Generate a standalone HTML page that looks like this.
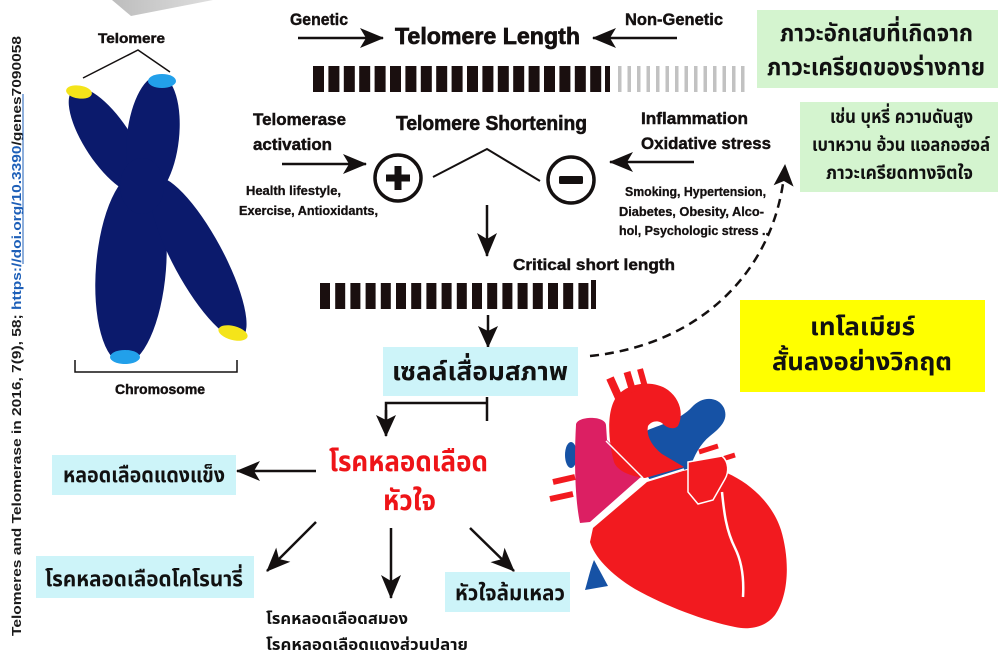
<!DOCTYPE html>
<html>
<head>
<meta charset="utf-8">
<style>
html,body{margin:0;padding:0;background:#fff;}
svg{display:block;}
.en{font-family:"Liberation Sans",Arial,sans-serif;font-weight:bold;fill:#141010;stroke:#141010;stroke-width:0.45;}
.th{font-family:"Liberation Sans","Noto Sans Thai","Noto Sans Thai UI","Loma","Garuda","Tlwg Typo",sans-serif;font-weight:bold;fill:#111;}
.vt{font-family:"Liberation Sans",Arial,sans-serif;font-weight:bold;fill:#1a1a1a;}
</style>
</head>
<body>
<svg width="1000" height="654" viewBox="0 0 1000 654" xmlns="http://www.w3.org/2000/svg">
<defs>
  <marker id="ah" markerUnits="userSpaceOnUse" markerWidth="24" markerHeight="22" viewBox="0 0 24 22" refX="23" refY="11" orient="auto">
    <path d="M0,1 L24,11 L0,21 L6,11 Z" fill="#141010"/>
  </marker>
  <marker id="ahs" markerUnits="userSpaceOnUse" markerWidth="22" markerHeight="22" viewBox="0 0 22 22" refX="21" refY="11" orient="auto">
    <path d="M0,1 L22,11 L0,21 L5,11 Z" fill="#141010"/>
  </marker>
  <linearGradient id="gg" x1="0" y1="0" x2="1" y2="0">
    <stop offset="0" stop-color="#bdbdbd"/>
    <stop offset="1" stop-color="#dedede"/>
  </linearGradient>
</defs>

<!-- grey sliver top -->
<polygon points="112,0 213,0 131,16" fill="url(#gg)"/>

<!-- vertical citation text -->
<g transform="translate(21,636) rotate(-90)">
  <text class="vt" x="0" y="0" font-size="13" textLength="600" lengthAdjust="spacingAndGlyphs">Telomeres and Telomerase in 2016, 7(9), 58; <tspan fill="#1d5fb8">https://doi.org/10.3390</tspan>/genes7090058</text>
  <line x1="372" y1="2" x2="542" y2="2" stroke="#1d5fb8" stroke-width="1"/>
</g>

<!-- Chromosome -->
<g fill="#0b1a6c">
  <ellipse cx="108" cy="141" rx="62" ry="23" transform="rotate(56.4 108 141)"/>
  <ellipse cx="153" cy="137" rx="62" ry="26" transform="rotate(96.3 153 137)"/>
  <ellipse cx="131" cy="268" rx="96" ry="35" transform="rotate(94.6 131 268)"/>
  <ellipse cx="198" cy="258" rx="91" ry="25" transform="rotate(61.6 198 258)"/>
  <ellipse cx="142" cy="186" rx="22" ry="28"/>
</g>
<ellipse cx="79" cy="92" rx="13" ry="6.5" fill="#f4e41a" transform="rotate(8 79 92)"/>
<ellipse cx="162" cy="81" rx="14" ry="7" fill="#22a0ea"/>
<ellipse cx="125" cy="357" rx="15" ry="7" fill="#22a0ea"/>
<ellipse cx="233" cy="333" rx="15" ry="7" fill="#f4e41a" transform="rotate(15 233 333)"/>
<text class="en" x="98" y="43" font-size="14" textLength="67" lengthAdjust="spacingAndGlyphs">Telomere</text>
<polyline points="83,78 138,50 170,72" fill="none" stroke="#141010" stroke-width="1.5"/>
<polyline points="75,360 75,372 237,372 237,360" fill="none" stroke="#141010" stroke-width="1.5"/>
<text class="en" x="115" y="394" font-size="14" textLength="90" lengthAdjust="spacingAndGlyphs">Chromosome</text>

<!-- Top row -->
<text class="en" x="290" y="25" font-size="17" textLength="58" lengthAdjust="spacingAndGlyphs">Genetic</text>
<text class="en" x="395" y="44" font-size="23" textLength="185" lengthAdjust="spacingAndGlyphs" style="stroke-width:0.7">Telomere  Length</text>
<text class="en" x="625" y="25" font-size="17" textLength="98" lengthAdjust="spacingAndGlyphs">Non-Genetic</text>
<line x1="298" y1="38" x2="383" y2="38" stroke="#141010" stroke-width="2.5" marker-end="url(#ah)"/>
<line x1="677" y1="38" x2="593" y2="38" stroke="#141010" stroke-width="2.5" marker-end="url(#ah)"/>

<!-- top bar -->
<g fill="#1a0f0f">
  <rect x="313" y="66" width="11" height="26"/><rect x="328.4" y="66" width="11" height="26"/>
  <rect x="343.8" y="66" width="11" height="26"/><rect x="359.2" y="66" width="11" height="26"/>
  <rect x="374.6" y="66" width="11" height="26"/><rect x="390" y="66" width="11" height="26"/>
  <rect x="405.4" y="66" width="11" height="26"/><rect x="420.8" y="66" width="11" height="26"/>
  <rect x="436.2" y="66" width="11" height="26"/><rect x="451.6" y="66" width="11" height="26"/>
  <rect x="467" y="66" width="11" height="26"/><rect x="482.4" y="66" width="11" height="26"/>
  <rect x="497.8" y="66" width="11" height="26"/><rect x="513.2" y="66" width="11" height="26"/>
  <rect x="528.6" y="66" width="11" height="26"/><rect x="544" y="66" width="11" height="26"/>
  <rect x="559.4" y="66" width="11" height="26"/><rect x="574.8" y="66" width="11" height="26"/>
  <rect x="590.2" y="66" width="11" height="26"/><rect x="605" y="66" width="5" height="26"/>
</g>
<g fill="#c2c2c2">
  <rect x="618" y="66" width="3.5" height="26"/><rect x="627.5" y="66" width="3.5" height="26"/>
  <rect x="637" y="66" width="3.5" height="26"/><rect x="646.5" y="66" width="3.5" height="26"/>
  <rect x="656" y="66" width="3.5" height="26"/><rect x="665.5" y="66" width="3.5" height="26"/>
  <rect x="675" y="66" width="3.5" height="26"/><rect x="684.5" y="66" width="3.5" height="26"/>
  <rect x="694" y="66" width="3.5" height="26"/><rect x="703.5" y="66" width="3.5" height="26"/>
  <rect x="713" y="66" width="3.5" height="26"/><rect x="722.5" y="66" width="3.5" height="26"/>
  <rect x="732" y="66" width="3.5" height="26"/><rect x="741" y="66" width="3.5" height="26"/>
</g>

<!-- Green boxes -->
<rect x="757" y="10" width="241" height="78" fill="#d4f4cf"/>
<text class="th" x="780" y="41" font-size="24" textLength="193" lengthAdjust="spacingAndGlyphs">ภาวะอักเสบที่เกิดจาก</text>
<text class="th" x="767" y="75" font-size="24" textLength="218" lengthAdjust="spacingAndGlyphs">ภาวะเครียดของร่างกาย</text>
<rect x="800" y="102" width="198" height="90" fill="#d4f4cf"/>
<text class="th" x="830" y="123" font-size="19" textLength="143" lengthAdjust="spacingAndGlyphs">เช่น บุหรี่ ความดันสูง</text>
<text class="th" x="812" y="151" font-size="19" textLength="178" lengthAdjust="spacingAndGlyphs">เบาหวาน อ้วน แอลกอฮอล์</text>
<text class="th" x="826" y="179" font-size="19" textLength="147" lengthAdjust="spacingAndGlyphs">ภาวะเครียดทางจิตใจ</text>

<!-- Middle section -->
<text class="en" x="253" y="125" font-size="17" textLength="93" lengthAdjust="spacingAndGlyphs">Telomerase</text>
<text class="en" x="253" y="150" font-size="17" textLength="79" lengthAdjust="spacingAndGlyphs">activation</text>
<text class="en" x="396" y="130" font-size="20" textLength="191" lengthAdjust="spacingAndGlyphs" style="stroke-width:0.6">Telomere Shortening</text>
<text class="en" x="641" y="124" font-size="17" textLength="107" lengthAdjust="spacingAndGlyphs">Inflammation</text>
<text class="en" x="641" y="149" font-size="17" textLength="130" lengthAdjust="spacingAndGlyphs">Oxidative stress</text>
<line x1="282" y1="164" x2="366" y2="164" stroke="#141010" stroke-width="2.5" marker-end="url(#ah)"/>
<line x1="694" y1="162" x2="610" y2="162" stroke="#141010" stroke-width="2.5" marker-end="url(#ah)"/>

<circle cx="398" cy="178" r="23" fill="none" stroke="#141010" stroke-width="3.5"/>
<rect x="386" y="174.5" width="24" height="7" fill="#141010"/>
<rect x="394.5" y="166" width="7" height="24" fill="#141010"/>
<polyline points="433,177 487,149 540,181" fill="none" stroke="#141010" stroke-width="2"/>
<circle cx="571" cy="180" r="23" fill="none" stroke="#141010" stroke-width="3.5"/>
<rect x="559" y="176" width="24" height="8" rx="1.5" fill="#141010"/>

<text class="en" x="246" y="195" font-size="12.5" textLength="95" lengthAdjust="spacingAndGlyphs" style="stroke-width:0.3">Health lifestyle,</text>
<text class="en" x="239" y="215" font-size="12.5" textLength="139" lengthAdjust="spacingAndGlyphs" style="stroke-width:0.3">Exercise, Antioxidants,</text>
<text class="en" x="625" y="196" font-size="12.5" textLength="141" lengthAdjust="spacingAndGlyphs" style="stroke-width:0.3">Smoking, Hypertension,</text>
<text class="en" x="619" y="216" font-size="12.5" textLength="145" lengthAdjust="spacingAndGlyphs" style="stroke-width:0.3">Diabetes, Obesity, Alco-</text>
<text class="en" x="619" y="235" font-size="12.5" textLength="150" lengthAdjust="spacingAndGlyphs" style="stroke-width:0.3">hol, Psychologic stress ..</text>

<line x1="487" y1="205" x2="487" y2="256" stroke="#141010" stroke-width="2.5" marker-end="url(#ah)"/>
<text class="en" x="513" y="270" font-size="16" textLength="162" lengthAdjust="spacingAndGlyphs">Critical short length</text>

<!-- critical bar -->
<g fill="#1a0f0f">
  <rect x="320" y="283" width="10" height="26"/><rect x="335.2" y="283" width="10" height="26"/>
  <rect x="350.4" y="283" width="10" height="26"/><rect x="365.6" y="283" width="10" height="26"/>
  <rect x="380.8" y="283" width="10" height="26"/><rect x="396" y="283" width="10" height="26"/>
  <rect x="411.2" y="283" width="10" height="26"/><rect x="426.4" y="283" width="10" height="26"/>
  <rect x="441.6" y="283" width="10" height="26"/><rect x="456.8" y="283" width="10" height="26"/>
  <rect x="472" y="283" width="10" height="26"/><rect x="487.2" y="283" width="10" height="26"/>
  <rect x="502.4" y="283" width="10" height="26"/><rect x="517.6" y="283" width="10" height="26"/>
  <rect x="532.8" y="283" width="10" height="26"/><rect x="548" y="283" width="10" height="26"/>
  <rect x="563.2" y="283" width="10" height="26"/><rect x="578.4" y="283" width="10" height="26"/>
  <rect x="591" y="280" width="5" height="29"/>
</g>

<!-- dashed curve -->
<path d="M590,356 C700,345 778,270 785,165" fill="none" stroke="#141010" stroke-width="2.5" stroke-dasharray="9 6" marker-end="url(#ahs)"/>

<!-- cell senescence box -->
<line x1="488" y1="315" x2="488" y2="347" stroke="#141010" stroke-width="2.5" marker-end="url(#ahs)"/>
<rect x="383" y="347" width="195" height="49" fill="#cdf4f9"/>
<text class="th" x="392" y="380" font-size="26" textLength="176" lengthAdjust="spacingAndGlyphs">เซลล์เสื่อมสภาพ</text>

<!-- yellow box -->
<rect x="740" y="300" width="245" height="92" fill="#ffff00"/>
<text class="th" x="810" y="335" font-size="25" textLength="105" lengthAdjust="spacingAndGlyphs">เทโลเมียร์</text>
<text class="th" x="772" y="370" font-size="25" textLength="180" lengthAdjust="spacingAndGlyphs">สั้นลงอย่างวิกฤต</text>

<!-- T connector -->
<polyline points="487,403 386,403 386,420" fill="none" stroke="#141010" stroke-width="2.5"/>
<line x1="386" y1="410" x2="386" y2="436" stroke="#141010" stroke-width="2.5" marker-end="url(#ahs)"/>
<line x1="487" y1="397" x2="487" y2="421" stroke="#141010" stroke-width="2.5"/>

<!-- red title -->
<text class="th" x="329" y="471" font-size="28" textLength="159" lengthAdjust="spacingAndGlyphs" style="fill:#ee1418">โรคหลอดเลือด</text>
<text class="th" x="383" y="510" font-size="28" textLength="53" lengthAdjust="spacingAndGlyphs" style="fill:#ee1418">หัวใจ</text>

<!-- arrows from red title -->
<line x1="316" y1="471" x2="237" y2="471" stroke="#141010" stroke-width="2.5" marker-end="url(#ah)"/>
<line x1="316" y1="522" x2="267" y2="571" stroke="#141010" stroke-width="2.5" marker-end="url(#ah)"/>
<line x1="391" y1="528" x2="391" y2="598" stroke="#141010" stroke-width="2.5" marker-end="url(#ah)"/>
<line x1="470" y1="528" x2="514" y2="571" stroke="#141010" stroke-width="2.5" marker-end="url(#ah)"/>

<!-- outcome boxes -->
<rect x="52" y="455" width="184" height="40" fill="#cdf4f9"/>
<text class="th" x="63" y="482" font-size="21" textLength="162" lengthAdjust="spacingAndGlyphs">หลอดเลือดแดงแข็ง</text>
<rect x="36" y="556" width="218" height="42" fill="#cdf4f9"/>
<text class="th" x="45" y="586" font-size="21" textLength="198" lengthAdjust="spacingAndGlyphs">โรคหลอดเลือดโคโรนารี่</text>
<rect x="445" y="572" width="125" height="40" fill="#cdf4f9"/>
<text class="th" x="455" y="600" font-size="21" textLength="110" lengthAdjust="spacingAndGlyphs">หัวใจล้มเหลว</text>
<text class="th" x="266" y="624" font-size="16" textLength="142" lengthAdjust="spacingAndGlyphs">โรคหลอดเลือดสมอง</text>
<text class="th" x="266" y="650" font-size="16" textLength="202" lengthAdjust="spacingAndGlyphs">โรคหลอดเลือดแดงส่วนปลาย</text>

<!-- Heart -->
<g>
  <!-- blue pieces behind -->
  <ellipse cx="571" cy="455" rx="6" ry="13" fill="#1652a5"/>
  <path d="M594,560 L608,586 L585,590 C588,580 590,570 594,560 Z" fill="#1652a5"/>
  <path d="M648,430 C662,424 680,420 692,407 C702,396 718,396 724,408 C729,420 720,428 710,436 C700,444 694,456 690,468 L650,480 C640,466 640,440 648,430 Z" fill="#1652a5"/>
  <!-- pink atrium -->
  <path d="M576,425 C576,416 605,415 606,425 L607,440 L624,457 L642,476 L590,522 L580,523 C575,500 574,460 576,425 Z" fill="#dc1f63"/>
  <!-- aorta arch -->
  <path d="M614,462 C608,440 606,408 618,395 C630,382 654,380 668,390 C680,399 684,414 678,426 C674,430 668,428 664,425 C660,420 652,420 648,426 C646,436 652,446 662,454 L684,467 L645,478 C628,476 617,470 614,462 Z" fill="#f21a1f"/>
  <!-- branches -->
  <line x1="610" y1="378" x2="619" y2="398" stroke="#f21a1f" stroke-width="8"/>
  <line x1="627" y1="372" x2="633" y2="392" stroke="#f21a1f" stroke-width="7"/>
  <line x1="640" y1="369" x2="645" y2="387" stroke="#f21a1f" stroke-width="6"/>
  <line x1="553" y1="482" x2="575" y2="477" stroke="#f21a1f" stroke-width="6"/>
  <line x1="550" y1="499" x2="573" y2="494" stroke="#f21a1f" stroke-width="6"/>
  <line x1="699" y1="452" x2="718" y2="446" stroke="#f21a1f" stroke-width="5"/>
  <line x1="716" y1="461" x2="735" y2="455" stroke="#f21a1f" stroke-width="5"/>
  <!-- ventricle -->
  <path d="M593,528 L647,482 L683,471 C700,467 715,468 727,473 C752,484 773,505 781,530 C790,560 789,595 775,615 C765,628 748,630 735,627 C705,621 665,606 635,589 C610,574 594,556 590,542 Z" fill="#f21a1f"/>
  <!-- left atrial appendage -->
  <path d="M688,462 L722,456 C729,462 729,472 725,479 L713,500 L698,504 L688,492 Z" fill="#f21a1f" stroke="#fff" stroke-width="1.5"/>
  <!-- white lines -->
  <path d="M722,492 C724,512 726,530 735,548 C742,562 744,580 743,597" fill="none" stroke="#fff" stroke-width="2.5"/>
  <line x1="606" y1="441" x2="643" y2="478" stroke="#fff" stroke-width="1.5"/>
  <line x1="646" y1="481" x2="684" y2="469" stroke="#fff" stroke-width="1.5"/>
</g>
</svg>
</body>
</html>
